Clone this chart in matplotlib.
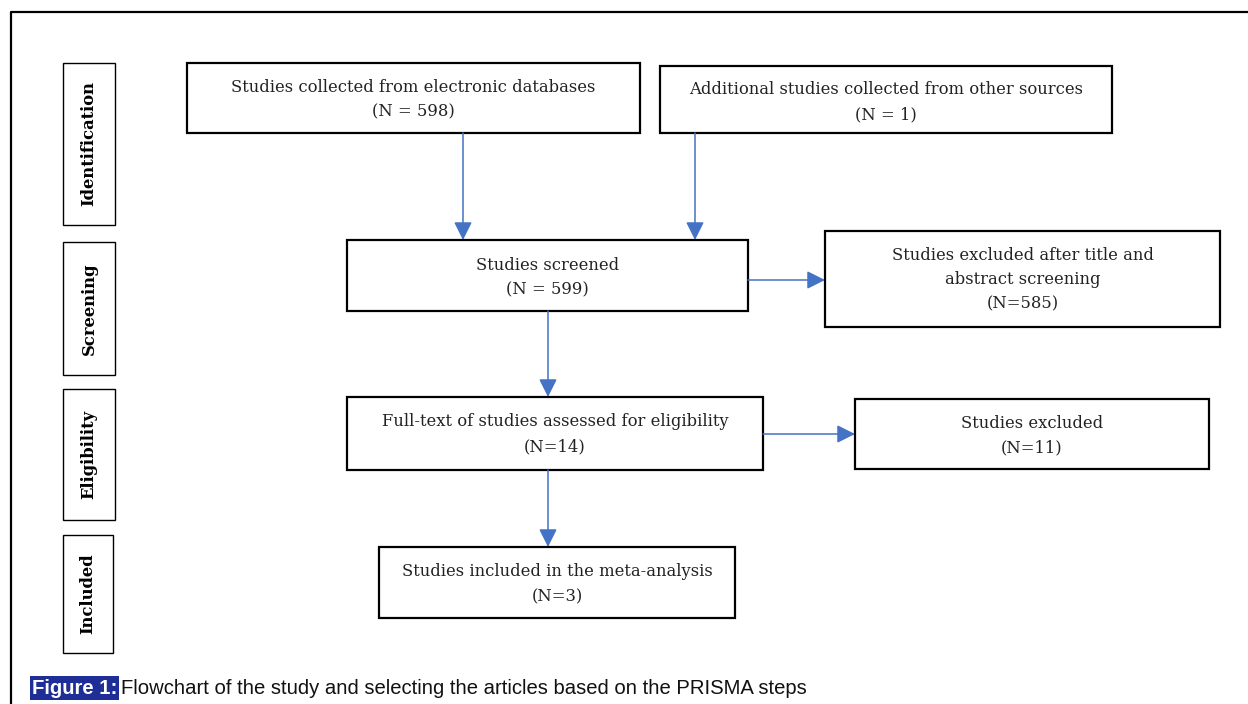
import matplotlib
matplotlib.use("Agg")
import matplotlib.pyplot as plt
from matplotlib.patches import Rectangle, FancyArrowPatch

stage_labels = ["Identification", "Screening", "Eligibility", "Included"]
box_texts = [
    "Studies collected from electronic databases\n(N = 598)",
    "Additional studies collected from other sources\n(N = 1)",
    "Studies screened\n(N = 599)",
    "Studies excluded after title and\nabstract screening\n(N=585)",
    "Full-text of studies assessed for eligibility\n(N=14)",
    "Studies excluded\n(N=11)",
    "Studies included in the meta-analysis\n(N=3)",
]
caption_label = "Figure 1:"
caption_text = "Flowchart of the study and selecting the articles based on the PRISMA steps"

# layout (pixel coordinates)
stage_boxes = [(63, 63, 52, 162), (63, 242, 52, 133), (63, 389, 52, 131), (63, 535, 50, 118)]
boxes = [
    (187, 63, 453, 70),
    (660, 66, 452, 67),
    (347, 240, 401, 71),
    (825, 231, 395, 96),
    (347, 397, 416, 73),
    (855, 399, 354, 70),
    (379, 547, 356, 71),
]
first_line_center = [85, 88, 263, 253, 420, 421, 570]
arrows = [((463, 133), (463, 240)), ((695, 133), (695, 240)), ((748, 280), (825, 280)),
          ((548, 311), (548, 397)), ((763, 434), (855, 434)), ((548, 470), (548, 547))]

W, H = 1248, 704
fig = plt.figure(figsize=(W / 100, H / 100), dpi=100)
ax = fig.add_axes([0, 0, 1, 1])
ax.set_xlim(0, W)
ax.set_ylim(H, 0)
ax.axis("off")

serif = ["DejaVu Serif"]
# outer frame
ax.plot([11, 11, W + 5], [H + 5, 12, 12], color="black", lw=1.6, solid_capstyle="butt")

for (x, y, w, h), lab in zip(stage_boxes, stage_labels):
    ax.add_patch(Rectangle((x, y), w, h, fill=False, ec="black", lw=1.0))
    ax.text(x + w / 2, y + h / 2, lab, rotation=90, ha="center", va="center",
            fontsize=11.8, fontweight="bold", family=serif)

LINE = 24.5
for (x, y, w, h), t, c in zip(boxes, box_texts, first_line_center):
    ax.add_patch(Rectangle((x, y), w, h, fill=False, ec="black", lw=1.6))
    lines = t.split("\n")
    for i, ln in enumerate(lines):
        ax.text(x + w / 2, c + i * LINE, ln, ha="center", va="center_baseline", fontsize=11.8,
                family=serif, color="#222222")

for (x0, y0), (x1, y1) in arrows:
    ax.add_patch(FancyArrowPatch((x0, y0), (x1, y1), arrowstyle="-|>,head_length=11,head_width=5.5",
                                 color="#4472C4", lw=1.1, mutation_scale=1, shrinkA=0, shrinkB=0))

cap = ["Liberation Sans", "DejaVu Sans"]
ax.text(32, 688, caption_label, ha="left", va="center", fontsize=14.6, fontweight="bold",
        color="white", family=cap,
        bbox=dict(boxstyle="square,pad=0.1", fc="#1f2d96", ec="none"))
ax.text(121, 688, caption_text, ha="left", va="center", fontsize=14.6, color="#111111", family=cap)

fig.savefig("out.png", dpi=100)
